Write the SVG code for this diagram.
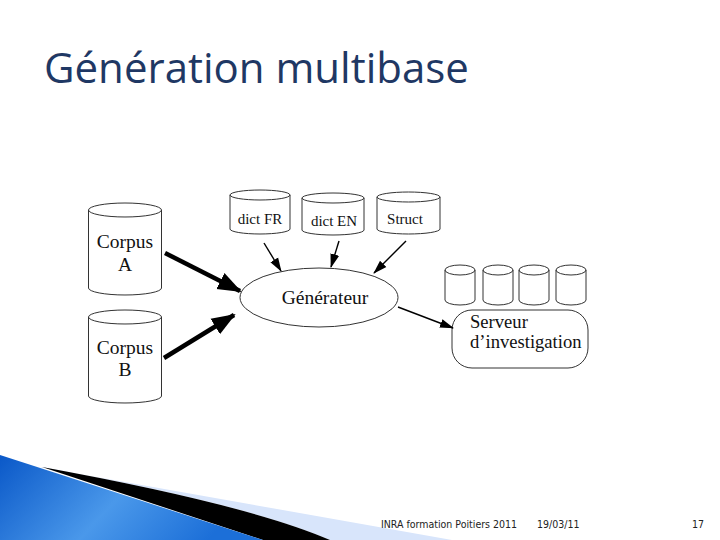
<svg xmlns="http://www.w3.org/2000/svg" width="720" height="540" viewBox="0 0 720 540">
<defs>
<style>
.cyl{fill:#fff;stroke:#333;stroke-width:1}
.lbl{font-family:"Liberation Serif","Times New Roman",serif;fill:#111;text-anchor:middle}
.big{font-size:19.5px}
.mid{font-size:18.6px}
.small{font-size:15px}
.thick{stroke:#000;stroke-width:4.5;fill:none}
.thin{stroke:#000;stroke-width:1.4;fill:none}
.foot{font-family:"DejaVu Sans Condensed","DejaVu Sans",sans-serif;font-size:10.5px;fill:#222}
</style>
<marker id="bigHead" markerUnits="userSpaceOnUse" markerWidth="24" markerHeight="20" viewBox="0 0 24 20" refX="22" refY="10" orient="auto">
<path d="M0,1 L24,10 L0,19 Z" fill="#000"/>
</marker>
<marker id="smallHead" markerUnits="userSpaceOnUse" markerWidth="14" markerHeight="10" viewBox="0 0 14 10" refX="13" refY="5" orient="auto">
<path d="M0,0.5 L14,5 L0,9.5 Z" fill="#000"/>
</marker>
<linearGradient id="blueGrad" x1="0" y1="0" x2="1" y2="0.3">
<stop offset="0" stop-color="#0a58c8"/>
<stop offset="0.55" stop-color="#4a98ea"/>
<stop offset="1" stop-color="#1c6fd8"/>
</linearGradient>
</defs>
<rect width="720" height="540" fill="#fff"/>
<text x="44" y="83" font-family="'Open Sans','DejaVu Sans',sans-serif" font-size="42" fill="#1f3864">Génération multibase</text>

<g id="corner">
<path d="M40,467 L452,540 L330,540 Q250,505 42,467 Z" fill="#d8e5fb"/>
<path d="M42,467 Q250,505 330,540 L263,540 Z" fill="#000"/>
<path d="M0,455 L263,540 L0,540 Z" fill="url(#blueGrad)"/>
</g>

<g id="corpusA">
<path class="cyl" d="M88.5,210 A36.5,7 0 0 1 161.5,210 V288 A36.5,7 0 0 1 88.5,288 Z M88.5,210 A36.5,7 0 0 0 161.5,210"/>
<text class="lbl big" x="125" y="248">Corpus</text>
<text class="lbl big" x="125" y="271">A</text>
</g>
<g id="corpusB">
<path class="cyl" d="M88.5,317 A36.5,7 0 0 1 161.5,317 V396 A36.5,7 0 0 1 88.5,396 Z M88.5,317 A36.5,7 0 0 0 161.5,317"/>
<text class="lbl big" x="125" y="354">Corpus</text>
<text class="lbl big" x="125" y="376">B</text>
</g>
<g id="dictFR">
<path class="cyl" d="M230,195 A30,5 0 0 1 290,195 V229 A30,5 0 0 1 230,229 Z M230,195 A30,5 0 0 0 290,195"/>
<text class="lbl small" x="260" y="224">dict FR</text>
</g>
<g id="dictEN">
<path class="cyl" d="M302,198 A31,5 0 0 1 364,198 V230 A31,5 0 0 1 302,230 Z M302,198 A31,5 0 0 0 364,198"/>
<text class="lbl small" x="334" y="226">dict EN</text>
</g>
<g id="struct">
<path class="cyl" d="M377,197 A31.5,5 0 0 1 440,197 V229 A31.5,5 0 0 1 377,229 Z M377,197 A31.5,5 0 0 0 440,197"/>
<text class="lbl small" x="405" y="224">Struct</text>
</g>
<g id="generateur">
<ellipse cx="319" cy="297.5" rx="79" ry="29.5" fill="#fff" stroke="#333" stroke-width="1"/>
<text class="lbl big" x="325" y="304">Générateur</text>
</g>
<g id="db1"><path class="cyl" d="M445,270 A15,5 0 0 1 475,270 V300 A15,5 0 0 1 445,300 Z M445,270 A15,5 0 0 0 475,270"/></g>
<g id="db2"><path class="cyl" d="M483,270 A15,5 0 0 1 513,270 V300 A15,5 0 0 1 483,300 Z M483,270 A15,5 0 0 0 513,270"/></g>
<g id="db3"><path class="cyl" d="M519,270 A15,5 0 0 1 549,270 V300 A15,5 0 0 1 519,300 Z M519,270 A15,5 0 0 0 549,270"/></g>
<g id="db4"><path class="cyl" d="M556,270 A15,5 0 0 1 586,270 V300 A15,5 0 0 1 556,300 Z M556,270 A15,5 0 0 0 586,270"/></g>
<g id="serveur">
<rect x="452" y="310" width="136" height="58" rx="20" ry="20" fill="#fff" stroke="#333" stroke-width="1"/>
<text class="lbl mid" x="470" y="328" style="text-anchor:start">Serveur</text>
<text class="lbl mid" x="470" y="348" style="text-anchor:start">d’investigation</text>
</g>

<g id="connectors">
<line class="thick" x1="165" y1="253" x2="240" y2="291" marker-end="url(#bigHead)"/>
<line class="thick" x1="164" y1="358" x2="234" y2="315" marker-end="url(#bigHead)"/>
<line class="thin" x1="264" y1="243" x2="281" y2="271" marker-end="url(#smallHead)"/>
<line class="thin" x1="339" y1="241" x2="331" y2="267" marker-end="url(#smallHead)"/>
<line class="thin" x1="406" y1="241" x2="374" y2="273" marker-end="url(#smallHead)"/>
<line class="thin" x1="398" y1="307" x2="453" y2="328" marker-end="url(#smallHead)"/>
</g>

<text class="foot" x="381" y="528">INRA formation Poitiers 2011</text>
<text class="foot" x="537" y="528">19/03/11</text>
<text class="foot" x="692" y="528">17</text>
</svg>
